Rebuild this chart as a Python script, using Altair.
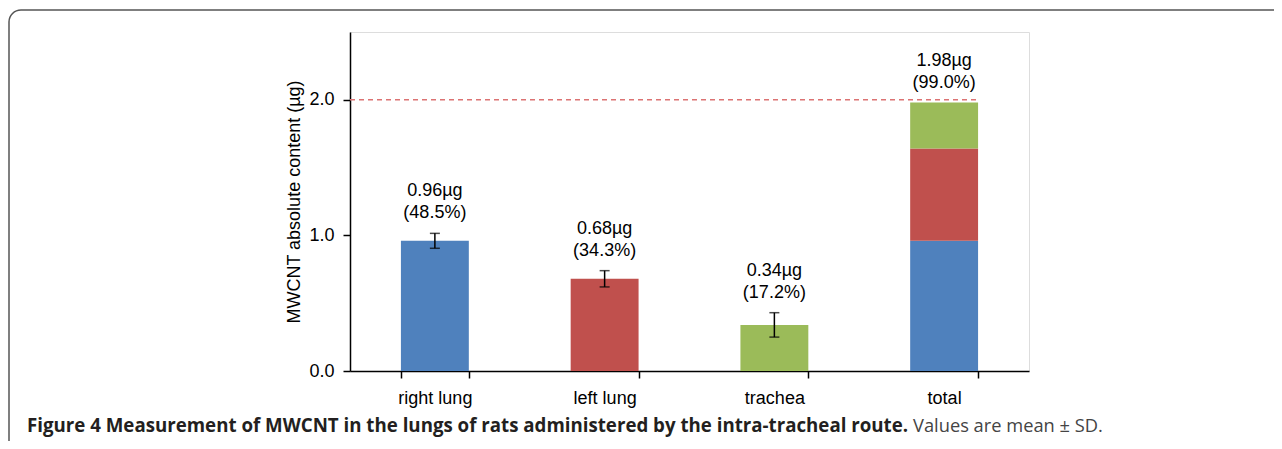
import altair as alt
import pandas as pd

categories = ["right lung", "left lung", "trachea", "total"]
organs = ["right lung", "left lung", "trachea"]
means = [0.96, 0.68, 0.34]
sds = [0.055, 0.06, 0.09]
colors = ["#4f81bd", "#c0504d", "#9bbb59"]
label_values = ["0.96\u00b5g", "0.68\u00b5g", "0.34\u00b5g", "1.98\u00b5g"]
label_pcts = ["(48.5%)", "(34.3%)", "(17.2%)", "(99.0%)"]
total_value = 1.98
reference_dose = 2.0

bars = pd.DataFrame({"cat": organs, "part": organs, "mean": means, "sd": sds,
                     "lo": [m - s for m, s in zip(means, sds)],
                     "hi": [m + s for m, s in zip(means, sds)]})
stack = pd.DataFrame({"cat": ["total"] * 3, "part": organs, "mean": means,
                      "order": [0, 1, 2]})
labels = pd.DataFrame({"cat": categories,
                       "top": [m + s for m, s in zip(means, sds)] + [total_value],
                       "val": label_values, "pct": label_pcts})

FONT = "Liberation Sans"
xs = alt.Scale(domain=categories, paddingInner=0.6, paddingOuter=0.3)
ys = alt.Scale(domain=[0, 2.5], nice=False)
cs = alt.Scale(domain=organs, range=colors)

x_axis = alt.Axis(title=None, labelAngle=0, tickBand="extent", labelFontSize=18,
                  labelFont=FONT, labelColor="#000", labelPadding=11, tickSize=7,
                  tickColor="#000", domainColor="#000", domainWidth=1.5, tickWidth=1.5)
y_axis = alt.Axis(title="MWCNT absolute content (\u00b5g)", values=[0, 1, 2], format=".1f",
                  labelFontSize=18, labelFont=FONT, labelColor="#000", titleFontSize=18,
                  titleFont=FONT, titleFontWeight="normal", titleColor="#000",
                  titlePadding=5, tickSize=7, tickColor="#000", domainColor="#000",
                  domainWidth=1.5, tickWidth=1.5, grid=False, labelPadding=9)

base_bars = alt.Chart(bars).mark_bar().encode(
    x=alt.X("cat:N", scale=xs, axis=x_axis, sort=categories),
    y=alt.Y("mean:Q", scale=ys, axis=y_axis),
    color=alt.Color("part:N", scale=cs, legend=None),
)
stack_bars = alt.Chart(stack).mark_bar().encode(
    x=alt.X("cat:N", scale=xs, sort=categories),
    y=alt.Y("mean:Q", scale=ys, stack="zero"),
    color=alt.Color("part:N", scale=cs, legend=None),
    order=alt.Order("order:Q"),
)
err = alt.Chart(bars).mark_rule(color="#000", strokeWidth=1.5).encode(
    x=alt.X("cat:N", scale=xs, sort=categories),
    y=alt.Y("lo:Q", scale=ys), y2="hi:Q",
)
cap_lo = alt.Chart(bars).mark_tick(color="#000", thickness=1.5, size=10, orient="horizontal").encode(
    x=alt.X("cat:N", scale=xs, sort=categories), y=alt.Y("lo:Q", scale=ys))
cap_hi = alt.Chart(bars).mark_tick(color="#000", thickness=1.5, size=10, orient="horizontal").encode(
    x=alt.X("cat:N", scale=xs, sort=categories), y=alt.Y("hi:Q", scale=ys))
txt_val = alt.Chart(labels).mark_text(font=FONT, fontSize=18, baseline="middle",
                                      dy=-42, color="#000").encode(
    x=alt.X("cat:N", scale=xs, sort=categories), y=alt.Y("top:Q", scale=ys), text="val")
txt_pct = alt.Chart(labels).mark_text(font=FONT, fontSize=18, baseline="middle",
                                      dy=-20, color="#000").encode(
    x=alt.X("cat:N", scale=xs, sort=categories), y=alt.Y("top:Q", scale=ys), text="pct")
dash = alt.Chart(pd.DataFrame({"v": [reference_dose]})).mark_rule(
    color="#dc7373", strokeDash=[5, 4], strokeWidth=1.5).encode(
    y=alt.Y("v:Q", scale=ys), x=alt.value(0), x2=alt.value(629))

frame = alt.Chart(pd.DataFrame({"a": [0]})).mark_rect(
    fill=None, stroke="#555", strokeWidth=1.5, cornerRadius=12, clip=False).encode(
    x=alt.value(-341), x2=alt.value(960), y=alt.value(-22), y2=alt.value(440))
cap_bold = alt.Chart(pd.DataFrame({"t": ["Figure 4 Measurement of MWCNT in the lungs of rats administered by the intra-tracheal route."]})).mark_text(
    font="Open Sans", fontWeight="bold", fontSize=18.7, align="left", baseline="alphabetic",
    color="#231f20").encode(x=alt.value(-323), y=alt.value(400), text="t")
cap_norm = alt.Chart(pd.DataFrame({"t": ["Values are mean \u00b1 SD."]})).mark_text(
    font="Open Sans", fontSize=18.3, align="left", baseline="alphabetic", color="#444").encode(
    x=alt.value(563), y=alt.value(400), text="t")

chart = alt.layer(frame, dash, base_bars, stack_bars, err, cap_lo, cap_hi, txt_val, txt_pct,
                  cap_bold, cap_norm).properties(
    width=679, height=339,
    autosize=alt.AutoSizeParams(type="none"),
    padding={"left": 342, "top": 24, "right": 245, "bottom": 70},
).configure_view(stroke="#000", strokeWidth=1.5).configure(background="white")

chart.save("out.html", embed_options={"renderer": "svg", "actions": False})
